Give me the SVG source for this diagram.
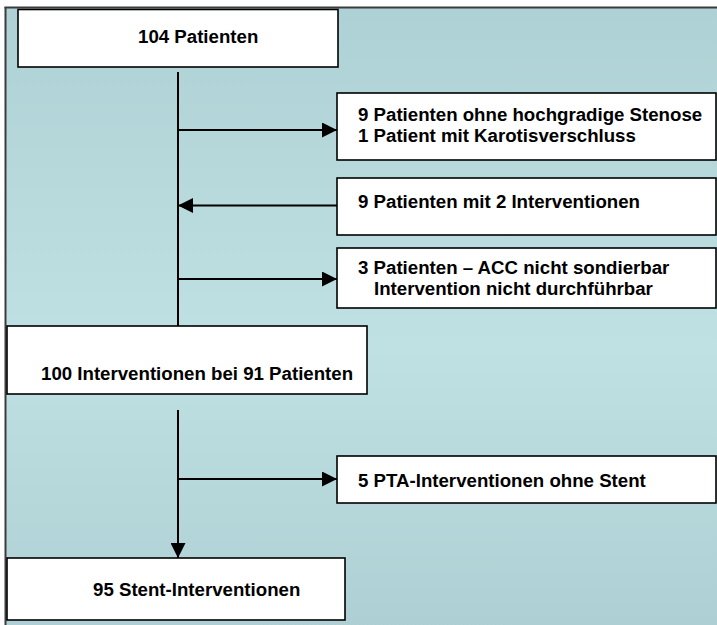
<svg xmlns="http://www.w3.org/2000/svg" width="717" height="625" viewBox="0 0 717 625">
<defs>
<linearGradient id="bg" x1="0" y1="0" x2="0" y2="1">
<stop offset="0" stop-color="#aed1d5"/>
<stop offset="0.55" stop-color="#c0e1e3"/>
<stop offset="1" stop-color="#aed0d4"/>
</linearGradient>
<marker id="ah" markerUnits="userSpaceOnUse" markerWidth="15" markerHeight="15" refX="15" refY="7.5" orient="auto">
<path d="M0,0 L15,7.5 L0,15 z" fill="#000"/>
</marker>
<style>
.box{fill:#fff;stroke:#000;stroke-width:1.6}
.t{font-family:"Liberation Sans",Arial,sans-serif;font-weight:bold;font-size:18.67px;fill:#000}
.c{stroke:#000;stroke-width:2;fill:none}
</style>
</defs>
<rect x="0" y="0" width="717" height="625" fill="#fff"/>
<rect x="5.5" y="7.5" width="712" height="618" fill="url(#bg)"/>
<line x1="4.5" y1="7.5" x2="717" y2="7.5" stroke="#3c3c3c" stroke-width="2"/>
<line x1="5.5" y1="7" x2="5.5" y2="625" stroke="#3c3c3c" stroke-width="2"/>

<g id="connectors">
<line class="c" x1="178" y1="72" x2="178" y2="326"/>
<line class="c" x1="178" y1="130" x2="337" y2="130" marker-end="url(#ah)"/>
<line class="c" x1="337" y1="205.5" x2="178" y2="205.5" marker-end="url(#ah)"/>
<line class="c" x1="178" y1="279" x2="337" y2="279" marker-end="url(#ah)"/>
<line class="c" x1="178" y1="410" x2="178" y2="558" marker-end="url(#ah)"/>
<line class="c" x1="178" y1="479" x2="337" y2="479" marker-end="url(#ah)"/>
</g>

<g id="n1">
<rect class="box" x="18" y="9.5" width="320" height="57.5"/>
<text class="t" x="138" y="42.5">104 Patienten</text>
</g>
<g id="n2">
<rect class="box" x="337" y="93" width="379" height="67"/>
<text class="t" x="358" y="121">9 Patienten ohne hochgradige Stenose</text>
<text class="t" x="358" y="142">1 Patient mit Karotisverschluss</text>
</g>
<g id="n3">
<rect class="box" x="337" y="178" width="379" height="57"/>
<text class="t" x="358" y="208">9 Patienten mit 2 Interventionen</text>
</g>
<g id="n4">
<rect class="box" x="337" y="248" width="379" height="60"/>
<text class="t" x="358" y="274">3 Patienten – ACC nicht sondierbar</text>
<text class="t" x="374" y="294.5">Intervention nicht durchführbar</text>
</g>
<g id="n5">
<rect class="box" x="7" y="326" width="360" height="68"/>
<text class="t" x="41" y="380">100 Interventionen bei 91 Patienten</text>
</g>
<g id="n6">
<rect class="box" x="337" y="456" width="379" height="47"/>
<text class="t" x="358" y="487">5 PTA-Interventionen ohne Stent</text>
</g>
<g id="n7">
<rect class="box" x="7" y="558" width="338" height="62"/>
<text class="t" x="93" y="596">95 Stent-Interventionen</text>
</g>
</svg>
